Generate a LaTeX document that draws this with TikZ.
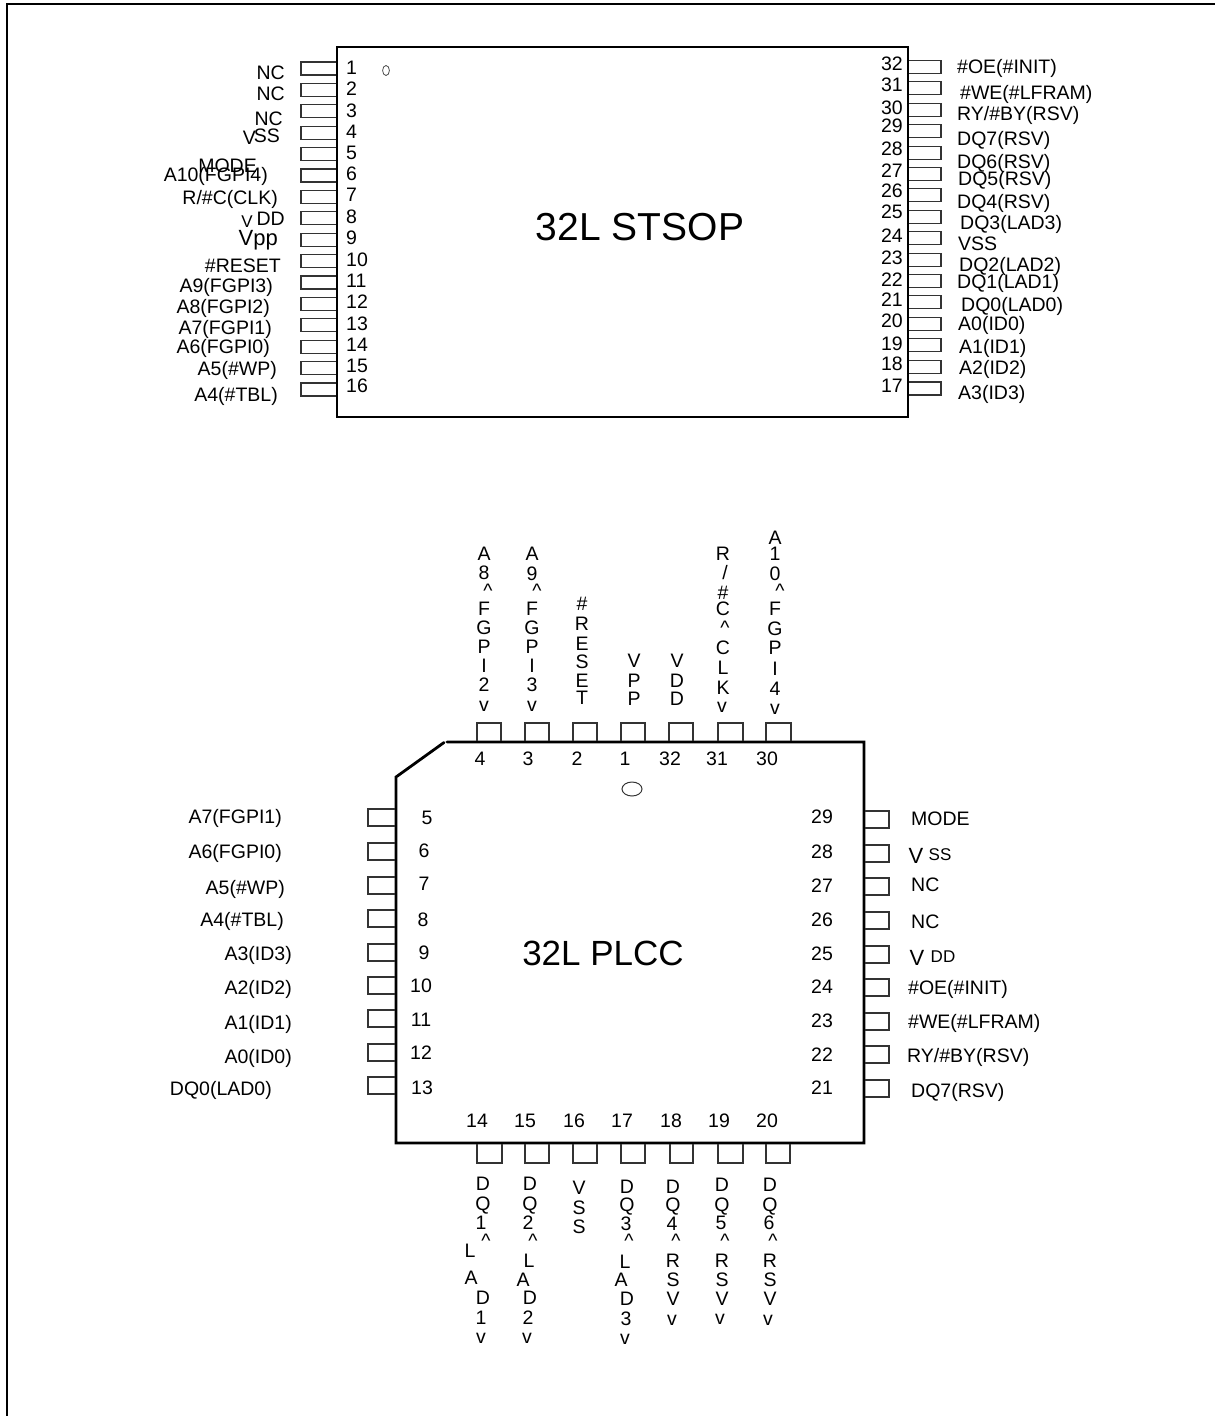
\documentclass[tikz,border=0pt]{standalone}
\usepackage{fontspec}
\setmainfont{Liberation Sans}
\newcommand{\fsz}[1]{\fontsize{#1}{#1}\selectfont}
\newcommand{\crt}{\textasciicircum}
\tikzset{
  x=1pt,y=-1pt,
  body/.style={line width=2.8pt,black,line cap=round},
  frameline/.style={line width=2.2pt,black},
  pin/.style={line width=1.1pt,draw=black!80},
  lab/.style={inner sep=0pt,font=\fsz{19.5},text height=14pt,text depth=0pt,text=black},
  num/.style={lab},
  big/.style={inner sep=0pt,font=\fsz{35},text height=25pt,text depth=0pt},
  ch/.style={inner sep=0pt,font=\fsz{19.5},text height=14pt,text depth=0pt,text=black},
  sm/.style={inner sep=0pt,font=\fsz{17},text height=12.2pt,text depth=0pt,text=black}
}
\begin{document}
\begin{tikzpicture}
\useasboundingbox (0,0) rectangle (1215,1416);
\draw[frameline] (7,1416) -- (7,4) -- (1215,4);
% ---------- STSOP ----------
\draw[body] (337,47) rectangle (908,417);
\foreach \y in {62,83.4,104.8,126.2,147.6,169,190.4,211.8,233.2,254.6,276,297.4,318.8,340.2,361.6,383}
  \draw[pin] (336,\y) -- (301,\y) -- (301,\y+13) -- (336,\y+13);
\foreach \y in {60.5,81.9,103.3,124.7,146.1,167.5,188.9,210.3,231.7,253.1,274.5,295.9,317.3,338.7,360.1,382}
  \draw[pin] (909,\y) -- (941,\y) -- (941,\y+13) -- (909,\y+13);
\draw[line width=.8pt,black!70] (386,70.5) ellipse (3.4 and 5);
\foreach \t/\y [count=\i] in {1/67,2/88,3/110,4/131,5/152,6/173,7/194,8/216,9/237,10/259,11/280,12/301,13/323,14/344,15/365,16/385}
  \node[num,anchor=west] (sl\i) at (346,\y) {\t};
\foreach \t/\y [count=\i] in {32/63,31/84,30/107,29/125,28/148,27/170,26/190,25/211,24/235,23/257,22/279,21/299,20/320,19/343,18/363,17/385}
  \node[num,anchor=east] (sr\i) at (903,\y) {\t};
\foreach \t/\x/\y [count=\i] in {
  NC/285/72,NC/285/93,NC/283/118,MODE/257/165,A10(FGPI4)/268/174,{R/\#C(CLK)}/278/197,
  \#RESET/281/265,A9(FGPI3)/273/285,A8(FGPI2)/270/306,A7(FGPI1)/272/327,A6(FGPI0)/270/346,
  A5(\#WP)/277/368,A4(\#TBL)/278/394}
  \node[lab,anchor=east] (sa\i) at (\x,\y) {\t};
\node[lab,anchor=east] (svssa) at (256,137) {V};
\node[lab,anchor=east] (svssb) at (280,135) {SS};
\node[sm,anchor=east] (svdda) at (253,221) {V};
\node[lab,anchor=east] (svddb) at (285,218) {DD};
\node[inner sep=0pt,font=\fsz{22},text height=15.8pt,text depth=0pt,anchor=east] (svpp) at (278,238) {Vpp};
\foreach \t/\x/\y [count=\i] in {
  \#OE(\#INIT)/957/66,\#WE(\#LFRAM)/960/92,{RY/\#BY(RSV)}/957/113,DQ7(RSV)/957/138,DQ6(RSV)/957/161,
  DQ5(RSV)/958/178,DQ4(RSV)/957/201,DQ3(LAD3)/960/222,VSS/958/243,DQ2(LAD2)/959/264,DQ1(LAD1)/957/281,
  DQ0(LAD0)/961/304,A0(ID0)/958/323,A1(ID1)/959/346,A2(ID2)/959/367,A3(ID3)/958/392}
  \node[lab,anchor=west] (sb\i) at (\x,\y) {\t};
\node[big,font=\fsz{39},text height=28pt] (stitle) at (640,226) {32L STSOP};
% ---------- PLCC ----------
\draw[body] (447,742) -- (864,742) -- (864,1143) -- (396,1143) -- (396,777) -- (444,742.5);
\draw[line width=1pt,black!80] (632,789) ellipse (10 and 7);
\foreach \x/\w in {477/24,525/24,573/24,621/24,669/24,718/25,766/25}
  \draw[pin] (\x,741) -- (\x,723) -- (\x+\w,723) -- (\x+\w,741);
\foreach \x/\w in {477/25,525/24,573/24,621/24,670/23,718/25,766/24}
  \draw[pin] (\x,1144) -- (\x,1163) -- (\x+\w,1163) -- (\x+\w,1144);
\foreach \y in {809,843,877,910,944,977,1010,1044,1077}
  \draw[pin] (395,\y) -- (368,\y) -- (368,\y+17) -- (395,\y+17);
\foreach \y in {811,845,878,912,946,979,1013,1046,1080}
  \draw[pin] (865,\y) -- (889,\y) -- (889,\y+17) -- (865,\y+17);
\foreach \t/\x [count=\i] in {4/480,3/528,2/577,1/625,32/670,31/717,30/767}
  \node[num] (pt\i) at (\x,758) {\t};
\foreach \t/\x [count=\i] in {14/477,15/525,16/574,17/622,18/671,19/719,20/767}
  \node[num] (pb\i) at (\x,1120) {\t};
\foreach \t/\x/\y [count=\i] in {5/427/817,6/424/850,7/424/883,8/423/919,9/424/952,10/421/985,11/421/1019,12/421/1052,13/422/1087}
  \node[num] (pl\i) at (\x,\y) {\t};
\foreach \t/\y [count=\i] in {29/816,28/851,27/885,26/919,25/953,24/986,23/1020,22/1054,21/1087}
  \node[num] (pr\i) at (822,\y) {\t};
\foreach \t/\x/\y [count=\i] in {
  A7(FGPI1)/282/816,A6(FGPI0)/282/851,A5(\#WP)/285/887,A4(\#TBL)/284/919,A3(ID3)/292/953,
  A2(ID2)/292/987,A1(ID1)/292/1022,A0(ID0)/292/1056,DQ0(LAD0)/272/1088}
  \node[lab,anchor=east] (pa\i) at (\x,\y) {\t};
\foreach \t/\x/\y [count=\i] in {
  MODE/911/818,NC/911/884,NC/911/921,\#OE(\#INIT)/908/987,\#WE(\#LFRAM)/908/1021,{RY/\#BY(RSV)}/907/1055,DQ7(RSV)/911/1090}
  \node[lab,anchor=west] (pc\i) at (\x,\y) {\t};
\node[inner sep=0pt,font=\fsz{22},text height=15.8pt,text depth=0pt] (pvssa) at (916,856) {V};
\node[sm] (pvssb) at (940,854) {SS};
\node[inner sep=0pt,font=\fsz{22},text height=15.8pt,text depth=0pt] (pvdda) at (917,958) {V};
\node[sm] (pvddb) at (943,956) {DD};
\node[big] (ptitle) at (603,953) {32L PLCC};
% top vertical labels
\foreach \c/\x/\y [count=\i] in {A/484/553,8/484/572,\crt/488/590,F/484/608,G/484/627,P/484/646,I/484/665,2/484/684,v/484/704}
  \node[ch] (ca\i) at (\x,\y) {\c};
\foreach \c/\x/\y [count=\i] in {A/532/553,9/532/573,\crt/537/590,F/532/608,G/532/627,P/532/646,I/532/665,3/532/684,v/532/704}
  \node[ch] (cb\i) at (\x,\y) {\c};
\foreach \c/\x/\y [count=\i] in {\#/582/603,R/582/623,E/582/643,S/582/661,E/582/680,T/582/697}
  \node[ch] (cc\i) at (\x,\y) {\c};
\foreach \c/\x/\y [count=\i] in {V/634/660,P/634/680,P/634/698}
  \node[ch] (cd\i) at (\x,\y) {\c};
\foreach \c/\x/\y [count=\i] in {V/677/660,D/677/680,D/677/698}
  \node[ch] (ce\i) at (\x,\y) {\c};
\foreach \c/\x/\y [count=\i] in {R/723/553,{/}/725/572,\#/723/592,C/723/608,\crt/725/627,C/723/647,L/723/667,K/723/687,v/722/705}
  \node[ch] (cf\i) at (\x,\y) {\c};
\foreach \c/\x/\y [count=\i] in {A/775/537,1/775/553,0/775/573,\crt/780/590,F/775/608,G/775/628,P/775/647,I/775/668,4/775/688,v/775/707}
  \node[ch] (cg\i) at (\x,\y) {\c};
% bottom vertical labels
\foreach \c/\x/\y [count=\i] in {D/483/1183,Q/483/1203,1/481/1222,\crt/486/1240,L/470/1250,A/471/1277,D/483/1297,1/481/1317,v/481/1336}
  \node[ch] (da\i) at (\x,\y) {\c};
\foreach \c/\x/\y [count=\i] in {D/530/1183,Q/530/1203,2/528/1222,\crt/533/1240,L/529/1260,A/523/1279,D/530/1297,2/528/1317,v/527/1336}
  \node[ch] (db\i) at (\x,\y) {\c};
\foreach \c/\y [count=\i] in {V/1187,S/1207,S/1226}
  \node[ch] (dc\i) at (579,\y) {\c};
\foreach \c/\x/\y [count=\i] in {D/627/1186,Q/627/1204,3/626/1223,\crt/629/1240,L/625/1261,A/621/1279,D/627/1298,3/626/1318,v/625/1337}
  \node[ch] (dd\i) at (\x,\y) {\c};
\foreach \c/\x/\y [count=\i] in {D/673/1186,Q/673/1204,4/672/1223,\crt/676/1240,R/673/1260,S/673/1279,V/673/1298,v/672/1318}
  \node[ch] (de\i) at (\x,\y) {\c};
\foreach \c/\x/\y [count=\i] in {D/722/1184,Q/722/1204,5/721/1222,\crt/725/1240,R/722/1260,S/722/1279,V/722/1298,v/720/1317}
  \node[ch] (df\i) at (\x,\y) {\c};
\foreach \c/\x/\y [count=\i] in {D/770/1184,Q/770/1204,6/769/1222,\crt/773/1240,R/770/1260,S/770/1279,V/770/1298,v/768/1318}
  \node[ch] (dg\i) at (\x,\y) {\c};
\end{tikzpicture}
\end{document}
